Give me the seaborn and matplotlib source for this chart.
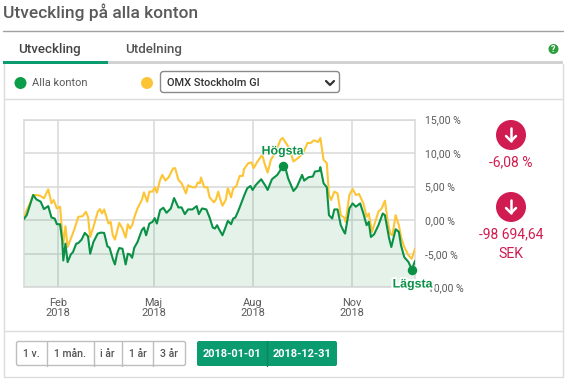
import numpy as np
import pandas as pd
import matplotlib
matplotlib.use("Agg")
import matplotlib.pyplot as plt
import matplotlib.patheffects as pe
from matplotlib.patches import Circle, FancyBboxPatch, Rectangle
import seaborn as sns

# ---- data: day of year 2018 (0 = 1 Jan) and development in percent
green_days = [0,3,6,9,12,16,19,23,26,29,31,34,36,37,39,41,44,46,49,51,54,57,60,62,65,69,72,75,78,80,83,85,87,89,92,95,97,99,
              101,103,106,110,112,114,117,120,122,124,127,130,133,137,140,144,147,150,153,157,161,163,166,170,173,176,178,180,182,
              185,188,190,193,195,197,200,203,205,208,211,213,216,221,225,227,231,236,241,244,246,251,254,259,261,265,269,271,275,276,279,282,284,287,289,292,295,298,
              299,303,306,309,313,316,319,321,323,326,330,334,336,340,342,346,349,351,354,358,361,364]
green_vals = [0.1,0.75,2.25,3.75,3.1,2.75,1.65,2.1,0.4,0.25,-0.6,-0.6,-3.0,-6.0,-3.5,-6.25,-5.1,-4.75,-3.5,-3.4,-2.9,-1.9,-2.4,-5.0,-3.25,-2.0,-1.85,-1.9,-3.9,-4.1,-5.75,-6.6,-5.0,-4.15,-4.25,-6.6,-5.0,-5.1,
              -5.6,-4.1,-3.25,-1.5,-1.1,-2.25,-0.5,-0.25,0.3,-0.5,1.5,1.85,1.1,1.75,3.3,1.9,1.9,0.9,1.6,1.6,2.1,0.9,1.75,1.6,0.4,-1.1,-1.25,-0.75,-1.4,
              -2.25,-1.0,-0.1,-0.6,0.25,0.4,1.5,2.75,3.6,4.75,5.1,4.5,5.25,6.1,5.1,4.5,6.1,6.75,8.0,7.5,6.25,4.35,4.9,6.75,5.9,6.4,6.5,7.25,7.35,7.9,5.5,4.9,0.75,0.25,1.6,1.6,-0.75,-1.75,
              -2.0,1.75,2.5,2.0,2.5,1.0,-0.75,-0.25,-2.5,-2.1,-0.75,1.0,0.75,-2.75,-4.0,-1.35,-1.75,-3.75,-5.5,-6.25,-7.35,-6.08]

omx_days = [0,3,6,9,12,16,19,22,23,26,28,31,34,35,37,39,41,44,47,49,51,55,58,60,62,65,69,71,73,75,79,81,83,85,89,92,95,97,99,
            101,103,106,110,112,115,117,120,122,124,127,129,132,135,139,141,144,147,151,153,157,160,162,164,165,168,171,173,177,179,181,183,
            185,188,190,193,195,198,201,204,205,209,212,214,217,222,224,227,230,234,239,241,244,246,249,251,256,260,264,267,270,274,276,279,282,284,286,289,292,295,299,
            299.5,303,306,309,312,316,319,321,324,326,330,333,336,339,341,343,346,349,351,354,358,361,364]
omx_vals = [0.1,1.5,2.5,3.75,3.75,3.6,3.25,4.25,4.6,2.5,3.0,1.75,2.0,0.0,-3.5,-0.9,-4.0,-2.75,-1.5,-0.5,0.5,0.6,1.25,0.5,-2.5,-1.0,1.25,1.65,1.0,1.6,-0.5,-0.25,-2.25,-2.9,-0.4,-1.25,-2.6,-0.6,-1.25,
            -0.75,0.4,1.75,3.0,4.15,2.75,4.25,4.25,4.9,4.1,6.0,6.75,5.9,6.4,7.7,7.75,6.0,5.5,4.0,5.2,4.9,4.9,5.6,5.5,6.35,4.9,4.9,3.4,2.65,3.1,4.25,3.1,
            2.15,3.0,4.75,3.4,4.75,5.1,6.6,6.6,7.6,8.5,8.6,7.75,8.6,9.75,8.5,7.1,9.0,10.0,12.0,12.25,11.5,11.0,9.75,8.75,9.35,10.0,11.5,11.5,11.9,11.65,12.25,9.0,8.5,3.75,3.0,4.25,4.0,0.75,0.25,
            -0.25,3.75,4.65,3.75,3.9,2.5,0.5,1.0,-1.75,-0.75,1.25,1.75,2.9,-0.5,-2.0,-2.25,0.75,-0.75,-2.5,-4.0,-5.25,-5.75,-4.25]

tick_dates = ["2018-02-02", "2018-05-02", "2018-08-02", "2018-11-02"]
tick_labels = ["Feb\n2018", "Maj\n2018", "Aug\n2018", "Nov\n2018"]
y_ticks = [-10, -5, 0, 5, 10, 15]
y_labels = ["-10,00 %", "-5,00 %", "0,00 %", "5,00 %", "10,00 %", "15,00 %"]
ranges = ["1 v.", "1 mån.", "i år", "1 år", "3 år"]
range_dates = ["2018-01-01", "2018-12-31"]

GREEN = "#0b9146"
YELLOW = "#fdc535"
TEAL = "#0a9b6f"
RED = "#d01c50"
GRID = "#d9d9d9"
TXT = "#5a5a5a"

sns.set_theme(style="white")
plt.rcParams["font.family"] = ["Roboto", "DejaVu Sans"]

W, H = 567, 380
fig = plt.figure(figsize=(W / 100, H / 100), dpi=100, facecolor="white")

base = pd.Timestamp("2018-01-01")
df_g = pd.DataFrame({"date": base + pd.to_timedelta(green_days, unit="D"), "v": green_vals})
df_o = pd.DataFrame({"date": base + pd.to_timedelta(omx_days, unit="D"), "v": omx_vals})

# ---- chart
L, R, T, B = 23.5, 415, 119.5, 287.3
ax = fig.add_axes([L / W, 1 - B / H, (R - L) / W, (B - T) / H])
ax.fill_between(df_g["date"], df_g["v"], -10, color="#0b9146", alpha=0.11, lw=0, zorder=2)
sns.lineplot(data=df_o, x="date", y="v", color=YELLOW, lw=1.5, ax=ax, estimator=None, zorder=3)
sns.lineplot(data=df_g, x="date", y="v", color=GREEN, lw=1.5, ax=ax, estimator=None, zorder=4)
ax.set_xlim(base, base + pd.Timedelta(days=364))
ax.set_ylim(-10, 15)
ax.set_xticks(pd.to_datetime(tick_dates))
ax.set_xticklabels(tick_labels, fontsize=7.9, color=TXT, linespacing=0.95)
ax.yaxis.tick_right()
ax.set_yticks(y_ticks)
ax.set_yticklabels(y_labels, fontsize=7.6, color=TXT, ha="left")
ax.tick_params(axis="x", length=0, pad=8)
ax.tick_params(axis="y", length=0, pad=7.5)
ax.set_xlabel("")
ax.set_ylabel("")
ax.grid(True, color=GRID, lw=1.1, zorder=1)
ax.set_axisbelow(True)
for s in ax.spines.values():
    s.set_color(GRID)
    s.set_linewidth(1.1)
ax.patch.set_alpha(0)

hi = df_g.loc[df_g["v"].idxmax()]
lo = df_g.loc[df_g["v"].idxmin()]
ax.plot([hi["date"]], [hi["v"]], "o", ms=5.8, color=GREEN, zorder=6, clip_on=False)
ax.plot([lo["date"]], [lo["v"]], "o", ms=5.8, color=GREEN, zorder=6, clip_on=False)
halo = [pe.withStroke(linewidth=3, foreground="white")]
ax.annotate("Högsta", (hi["date"], hi["v"]), xytext=(0, 9), textcoords="offset pixels", ha="center", va="bottom",
            fontsize=8.9, fontweight="bold", color=GREEN, family="Liberation Sans", zorder=7, path_effects=[pe.withStroke(linewidth=1.5, foreground="white")])
ax.annotate("Lägsta", (lo["date"], lo["v"]), xytext=(1, -9), textcoords="offset pixels", ha="center", va="top",
            fontsize=8.9, fontweight="bold", color=GREEN, family="Liberation Sans", zorder=7, path_effects=halo,
            annotation_clip=False)

# ---- page furniture, in pixel coordinates
ui = fig.add_axes([0, 0, 1, 1], zorder=-1)
ui.set_xlim(0, W)
ui.set_ylim(H, 0)
ui.axis("off")
ui.patch.set_alpha(0)

ui.text(3, 12, "Utveckling på alla konton", fontsize=12.5, color=TXT, va="center", fontweight="medium")
ui.plot([3, 563], [30.5, 30.5], color="#a0a0a0", lw=1)

ui.text(18, 49, "Utveckling", fontsize=9.6, color="#444444", va="center", fontweight="medium")
ui.text(125, 49, "Utdelning", fontsize=9.6, color="#555555", va="center", fontweight="medium")
ui.add_patch(Rectangle((3, 61.3), 560, 3, color="#d2d2d2", lw=0))
ui.add_patch(Rectangle((3, 61.3), 105, 3, color=TEAL, lw=0))
ui.add_patch(Circle((553.5, 49), 5, color="#2e9e3e", lw=0))
ui.text(553.5, 49, "?", color="white", fontsize=6.5, fontweight="bold", ha="center", va="center")

ui.plot([3.5, 3.5, 562.5, 562.5], [64, 376.5, 376.5, 64], color="#dcdcdc", lw=1)
ui.plot([3.5, 562.5], [99, 99], color="#dcdcdc", lw=1)
ui.plot([3.5, 562.5], [330.5, 330.5], color="#dcdcdc", lw=1)

ui.add_patch(Circle((20.5, 83), 6, color="#0a9e4a", lw=0))
ui.text(32, 83, "Alla konton", fontsize=7.9, color=TXT, va="center")
ui.add_patch(Circle((147, 83), 6, color=YELLOW, lw=0))
ui.add_patch(FancyBboxPatch((160.5, 71.5), 179, 21, boxstyle="round,pad=0,rounding_size=3", fc="white", ec="#8a8a8a", lw=1))
ui.text(167, 83, "OMX Stockholm GI", fontsize=7.9, color="#333333", va="center", fontweight="medium")
ui.plot([326, 330, 334], [81, 85, 81], color="#333333", lw=1.6)

for cy in (135, 207):
    ui.add_patch(Circle((511, cy), 15, color=RED, lw=0))
    ui.plot([511, 511], [cy - 7, cy + 6], color="white", lw=1.8, solid_capstyle="round")
    ui.plot([506, 511, 516], [cy + 1, cy + 6, cy + 1], color="white", lw=1.8, solid_capstyle="round")
ui.text(511, 162.5, "-6,08 %", fontsize=10, color=RED, ha="center", va="center")
ui.text(511, 234.5, "-98 694,64", fontsize=10, color=RED, ha="center", va="center")
ui.text(511, 254, "SEK", fontsize=10.2, color=RED, ha="center", va="center")

edges = [16.5, 46.7, 93.7, 121.7, 153.3, 185.5]
ui.add_patch(FancyBboxPatch((edges[0], 341.5), edges[-1] - edges[0], 24, boxstyle="round,pad=0,rounding_size=2", fc="white", ec="#bdbdbd", lw=1))
for i, lab in enumerate(ranges):
    if i:
        ui.plot([edges[i], edges[i]], [341.5, 365.5], color="#bdbdbd", lw=1)
    ui.text((edges[i] + edges[i + 1]) / 2, 354, lab, fontsize=7.6, color="#555555", ha="center", va="center", fontweight="medium")

ui.add_patch(FancyBboxPatch((197, 341), 140, 25, boxstyle="round,pad=0,rounding_size=2", fc=TEAL, ec="none"))
ui.plot([266.5, 266.5], [341, 366], color="#0b8560", lw=1)
ui.text(231.7, 354, range_dates[0], fontsize=7.9, color="white", ha="center", va="center", fontweight="bold")
ui.text(302, 354, range_dates[1], fontsize=7.9, color="white", ha="center", va="center", fontweight="bold")

fig.savefig("out.png", dpi=100, facecolor="white")
